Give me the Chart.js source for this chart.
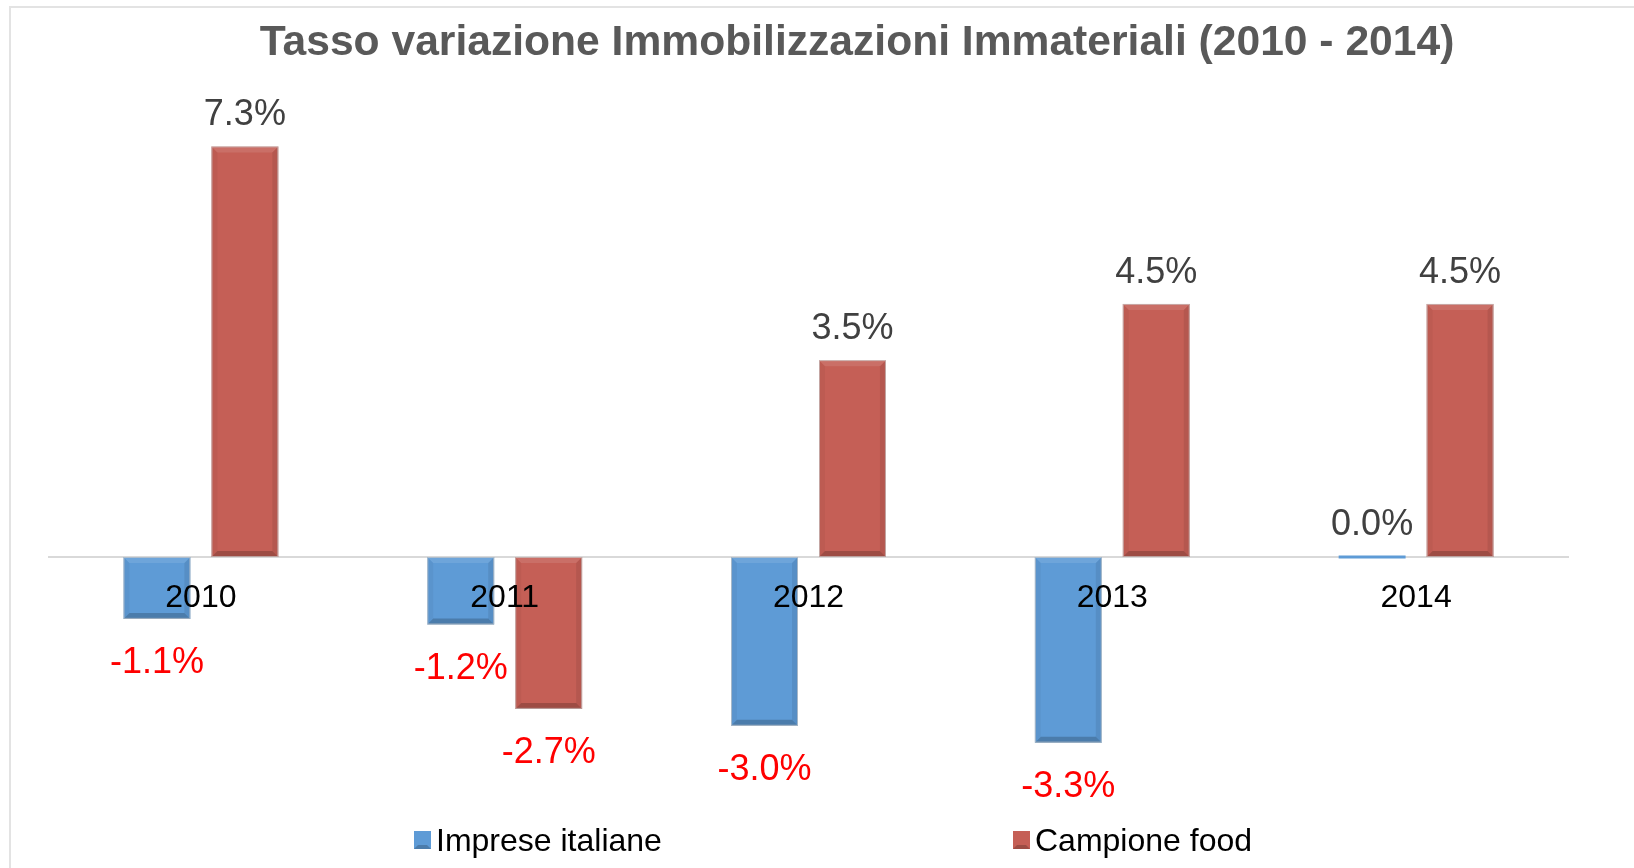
<!DOCTYPE html>
<html><head><meta charset="utf-8">
<script src="https://cdn.jsdelivr.net/npm/chart.js@4.4.1/dist/chart.umd.min.js"></script>
<style>html,body{margin:0;padding:0;background:#fff;overflow:hidden}canvas{display:block}</style>
</head><body>
<canvas id="c" width="1634" height="868"></canvas>
<script>
const titleText = 'Tasso variazione Immobilizzazioni Immateriali (2010 - 2014)';
const categories = ['2010', '2011', '2012', '2013', '2014'];
const seriesNames = ['Imprese italiane', 'Campione food'];
const impreseItaliane = [-1.1, -1.2, -3.0, -3.3, 0.0];
const campioneFood = [7.3, -2.7, 3.5, 4.5, 4.5];
const yMin = -4;
const yMax = 8;

const FONT = "'Liberation Sans', Arial, sans-serif";
const seriesColors = ['#5E9BD6', '#C55F56'];

const framePlugin = {
  id: 'frame',
  beforeDraw(chart) {
    const ctx = chart.ctx;
    ctx.save();
    ctx.fillStyle = '#e3e3e3';
    ctx.fillRect(9, 6, chart.width - 9, 2);
    ctx.fillRect(9, 6, 2, chart.height - 6);
    ctx.restore();
  }
};

const bevelPlugin = {
  id: 'bevel',
  afterDatasetsDraw(chart) {
    const ctx = chart.ctx;
    chart.data.datasets.forEach((ds, di) => {
      const meta = chart.getDatasetMeta(di);
      meta.data.forEach((bar) => {
        const p = bar.getProps(['x', 'y', 'base', 'width'], true);
        const l = p.x - p.width / 2, r = p.x + p.width / 2;
        const t = Math.min(p.y, p.base), b = Math.max(p.y, p.base);
        const h = b - t;
        if (h < 12) return;
        const e = Math.min(6, h / 2, p.width / 2);
        const quad = (pts, fill) => {
          ctx.beginPath();
          ctx.moveTo(pts[0][0], pts[0][1]);
          for (let i = 1; i < pts.length; i++) ctx.lineTo(pts[i][0], pts[i][1]);
          ctx.closePath();
          ctx.fillStyle = fill;
          ctx.fill();
        };
        ctx.save();
        quad([[l, t], [r, t], [r - e, t + e], [l + e, t + e]], 'rgba(255,255,255,0.10)');
        quad([[l, b], [r, b], [r - e, b - e], [l + e, b - e]], 'rgba(0,0,0,0.20)');
        quad([[l, t], [l + e, t + e], [l + e, b - e], [l, b]], 'rgba(0,0,0,0.04)');
        quad([[r, t], [r - e, t + e], [r - e, b - e], [r, b]], 'rgba(0,0,0,0.08)');
        ctx.strokeStyle = 'rgba(200,200,200,0.7)';
        ctx.lineWidth = 1;
        ctx.strokeRect(l + 0.5, t + 0.5, p.width - 1, h - 1);
        ctx.restore();
      });
    });
  }
};

const labelPlugin = {
  id: 'valueLabels',
  afterDatasetsDraw(chart) {
    const ctx = chart.ctx;
    ctx.save();
    ctx.font = '36px ' + FONT;
    ctx.textAlign = 'center';
    ctx.textBaseline = 'alphabetic';
    chart.data.datasets.forEach((ds, di) => {
      const meta = chart.getDatasetMeta(di);
      meta.data.forEach((bar, i) => {
        const v = ds.data[i];
        const p = bar.getProps(['x', 'y', 'base'], true);
        const txt = v.toFixed(1) + '%';
        if (v < 0) {
          ctx.fillStyle = '#FF0000';
          ctx.fillText(txt, p.x, Math.max(p.y, p.base) + 54);
        } else {
          ctx.fillStyle = '#404040';
          ctx.fillText(txt, p.x, Math.min(p.y, p.base) - 21);
        }
      });
    });
    ctx.restore();
  }
};

const titleLegendPlugin = {
  id: 'titleLegend',
  afterDraw(chart) {
    const ctx = chart.ctx;
    ctx.save();
    ctx.font = 'bold 42.6px ' + FONT;
    ctx.fillStyle = '#595959';
    ctx.textAlign = 'center';
    ctx.textBaseline = 'alphabetic';
    ctx.fillText(titleText, 857, 55);
    // legend
    const legendX = [414, 1013];
    ctx.font = '32px ' + FONT;
    ctx.textAlign = 'left';
    ctx.textBaseline = 'middle';
    chart.data.datasets.forEach((ds, di) => {
      const x = legendX[di];
      ctx.fillStyle = ds.backgroundColor;
      ctx.fillRect(x, 831, 17, 18);
      ctx.fillStyle = 'rgba(0,0,0,0.2)';
      ctx.beginPath();
      ctx.moveTo(x, 849); ctx.lineTo(x + 17, 849); ctx.lineTo(x + 13, 845); ctx.lineTo(x + 4, 845);
      ctx.closePath(); ctx.fill();
      ctx.fillStyle = '#000000';
      ctx.fillText(ds.label, x + 22, 842);
    });
    ctx.restore();
  }
};

new Chart(document.getElementById('c'), {
  type: 'bar',
  data: {
    labels: categories,
    datasets: [
      { label: seriesNames[0], data: impreseItaliane, backgroundColor: seriesColors[0], minBarLength: 3 },
      { label: seriesNames[1], data: campioneFood, backgroundColor: seriesColors[1] }
    ]
  },
  options: {
    responsive: false,
    animation: false,
    categoryPercentage: 0.579,
    barPercentage: 0.761,
    layout: { padding: { top: 107, bottom: 86, left: 49, right: 66 } },
    plugins: {
      legend: { display: false },
      title: { display: false },
      tooltip: { enabled: false }
    },
    scales: {
      x: {
        position: { y: 0 },
        grid: { display: false, drawTicks: false },
        border: { display: true, color: '#d9d9d9', width: 2, z: 0 },
        ticks: { font: { family: FONT, size: 32 }, color: '#000000', padding: 22, z: 1 }
      },
      y: {
        display: false,
        min: yMin,
        max: yMax
      }
    }
  },
  plugins: [framePlugin, bevelPlugin, labelPlugin, titleLegendPlugin]
});
</script>
</body></html>
